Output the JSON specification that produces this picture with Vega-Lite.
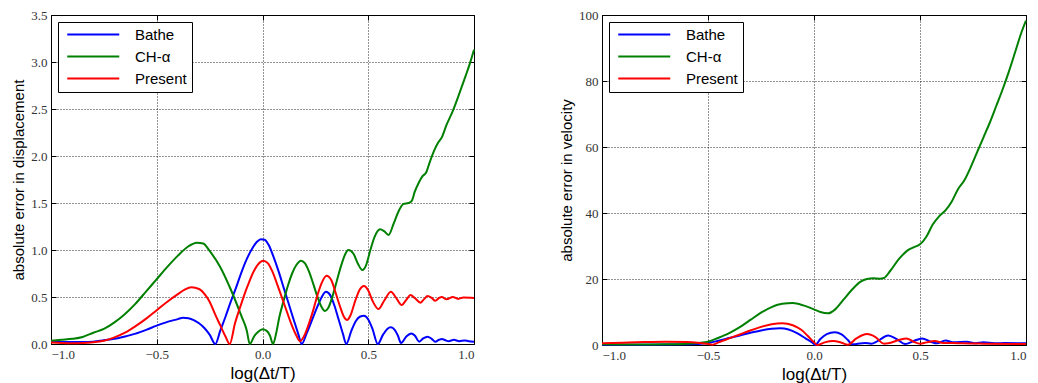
{
"$schema": "https://vega.github.io/schema/vega-lite/v6.json",
"padding": {"left": 11, "top": 8, "right": 2, "bottom": 4},
"background": "white",
"config": {
 "view": {"stroke": "black", "strokeWidth": 1},
 "font": "Liberation Sans",
 "axis": {"grid": true, "gridColor": "#000", "gridDash": [1, 2], "gridOpacity": 0.85, "gridWidth": 1, "domain": false, "tickColor": "#000", "tickSize": -5, "labelFont": "Liberation Serif", "labelFontSize": 13, "labelColor": "#333", "labelPadding": 9, "titleFont": "Liberation Sans", "titleFontWeight": "normal", "titleFontSize": 15, "titleColor": "#000"},
 "legend": {"orient": "top-left", "offset": 7, "strokeColor": "#000", "strokeWidth": 1, "fillColor": "white", "padding": 5, "symbolType": "M-0.5,0H7.5", "symbolSize": 169, "symbolStrokeWidth": 2, "labelFont": "Liberation Sans", "labelFontSize": 15, "labelColor": "#000", "rowPadding": 6, "labelOffset": 57, "cornerRadius": 0},
 "line": {"strokeWidth": 2, "interpolate": "monotone"}
},
"resolve": {"scale": {"color": "independent"}},
"spacing": 80,
"datasets": {
"d": [
{"x":-1,"y":0.025,"s":"Bathe"},{"x":-0.95,"y":0.022,"s":"Bathe"},{"x":-0.9,"y":0.02,"s":"Bathe"},{"x":-0.85,"y":0.02,"s":"Bathe"},{"x":-0.8,"y":0.025,"s":"Bathe"},{"x":-0.75,"y":0.04,"s":"Bathe"},{"x":-0.7,"y":0.055,"s":"Bathe"},{"x":-0.65,"y":0.08,"s":"Bathe"},{"x":-0.6,"y":0.11,"s":"Bathe"},{"x":-0.55,"y":0.15,"s":"Bathe"},{"x":-0.5,"y":0.195,"s":"Bathe"},{"x":-0.45,"y":0.235,"s":"Bathe"},{"x":-0.4,"y":0.265,"s":"Bathe"},{"x":-0.376,"y":0.28,"s":"Bathe"},{"x":-0.35,"y":0.275,"s":"Bathe"},{"x":-0.325,"y":0.255,"s":"Bathe"},{"x":-0.3,"y":0.22,"s":"Bathe"},{"x":-0.275,"y":0.17,"s":"Bathe"},{"x":-0.25,"y":0.1,"s":"Bathe"},{"x":-0.223,"y":0,"s":"Bathe"},{"x":-0.2,"y":0.14,"s":"Bathe"},{"x":-0.175,"y":0.29,"s":"Bathe"},{"x":-0.15,"y":0.45,"s":"Bathe"},{"x":-0.125,"y":0.6,"s":"Bathe"},{"x":-0.1,"y":0.76,"s":"Bathe"},{"x":-0.075,"y":0.9,"s":"Bathe"},{"x":-0.05,"y":1.01,"s":"Bathe"},{"x":-0.025,"y":1.09,"s":"Bathe"},{"x":-0.008,"y":1.115,"s":"Bathe"},{"x":0.01,"y":1.11,"s":"Bathe"},{"x":0.03,"y":1.05,"s":"Bathe"},{"x":0.05,"y":0.94,"s":"Bathe"},{"x":0.075,"y":0.78,"s":"Bathe"},{"x":0.1,"y":0.6,"s":"Bathe"},{"x":0.125,"y":0.42,"s":"Bathe"},{"x":0.15,"y":0.24,"s":"Bathe"},{"x":0.17,"y":0.1,"s":"Bathe"},{"x":0.185,"y":0,"s":"Bathe"},{"x":0.21,"y":0.12,"s":"Bathe"},{"x":0.235,"y":0.26,"s":"Bathe"},{"x":0.26,"y":0.4,"s":"Bathe"},{"x":0.28,"y":0.5,"s":"Bathe"},{"x":0.3,"y":0.555,"s":"Bathe"},{"x":0.32,"y":0.52,"s":"Bathe"},{"x":0.34,"y":0.41,"s":"Bathe"},{"x":0.36,"y":0.26,"s":"Bathe"},{"x":0.38,"y":0.11,"s":"Bathe"},{"x":0.396,"y":0,"s":"Bathe"},{"x":0.42,"y":0.14,"s":"Bathe"},{"x":0.44,"y":0.24,"s":"Bathe"},{"x":0.46,"y":0.29,"s":"Bathe"},{"x":0.48,"y":0.3,"s":"Bathe"},{"x":0.5,"y":0.26,"s":"Bathe"},{"x":0.52,"y":0.16,"s":"Bathe"},{"x":0.545,"y":0,"s":"Bathe"},{"x":0.57,"y":0.1,"s":"Bathe"},{"x":0.59,"y":0.16,"s":"Bathe"},{"x":0.607,"y":0.177,"s":"Bathe"},{"x":0.625,"y":0.15,"s":"Bathe"},{"x":0.64,"y":0.09,"s":"Bathe"},{"x":0.655,"y":0.01,"s":"Bathe"},{"x":0.68,"y":0.08,"s":"Bathe"},{"x":0.703,"y":0.113,"s":"Bathe"},{"x":0.72,"y":0.09,"s":"Bathe"},{"x":0.741,"y":0.025,"s":"Bathe"},{"x":0.76,"y":0.06,"s":"Bathe"},{"x":0.78,"y":0.078,"s":"Bathe"},{"x":0.8,"y":0.055,"s":"Bathe"},{"x":0.817,"y":0.025,"s":"Bathe"},{"x":0.835,"y":0.045,"s":"Bathe"},{"x":0.848,"y":0.053,"s":"Bathe"},{"x":0.865,"y":0.04,"s":"Bathe"},{"x":0.88,"y":0.03,"s":"Bathe"},{"x":0.905,"y":0.045,"s":"Bathe"},{"x":0.93,"y":0.03,"s":"Bathe"},{"x":0.955,"y":0.038,"s":"Bathe"},{"x":0.975,"y":0.03,"s":"Bathe"},{"x":1,"y":0.025,"s":"Bathe"},
{"x":-1,"y":0.035,"s":"CH-α"},{"x":-0.95,"y":0.045,"s":"CH-α"},{"x":-0.9,"y":0.055,"s":"CH-α"},{"x":-0.85,"y":0.075,"s":"CH-α"},{"x":-0.8,"y":0.12,"s":"CH-α"},{"x":-0.75,"y":0.16,"s":"CH-α"},{"x":-0.7,"y":0.23,"s":"CH-α"},{"x":-0.65,"y":0.32,"s":"CH-α"},{"x":-0.6,"y":0.43,"s":"CH-α"},{"x":-0.55,"y":0.56,"s":"CH-α"},{"x":-0.5,"y":0.69,"s":"CH-α"},{"x":-0.45,"y":0.82,"s":"CH-α"},{"x":-0.4,"y":0.94,"s":"CH-α"},{"x":-0.35,"y":1.04,"s":"CH-α"},{"x":-0.31,"y":1.078,"s":"CH-α"},{"x":-0.28,"y":1.07,"s":"CH-α"},{"x":-0.25,"y":0.99,"s":"CH-α"},{"x":-0.2,"y":0.82,"s":"CH-α"},{"x":-0.15,"y":0.58,"s":"CH-α"},{"x":-0.1,"y":0.3,"s":"CH-α"},{"x":-0.075,"y":0.15,"s":"CH-α"},{"x":-0.06,"y":0,"s":"CH-α"},{"x":-0.04,"y":0.08,"s":"CH-α"},{"x":-0.02,"y":0.13,"s":"CH-α"},{"x":0,"y":0.156,"s":"CH-α"},{"x":0.02,"y":0.14,"s":"CH-α"},{"x":0.035,"y":0.09,"s":"CH-α"},{"x":0.05,"y":0,"s":"CH-α"},{"x":0.065,"y":0.12,"s":"CH-α"},{"x":0.08,"y":0.29,"s":"CH-α"},{"x":0.1,"y":0.46,"s":"CH-α"},{"x":0.12,"y":0.62,"s":"CH-α"},{"x":0.14,"y":0.75,"s":"CH-α"},{"x":0.16,"y":0.84,"s":"CH-α"},{"x":0.182,"y":0.886,"s":"CH-α"},{"x":0.2,"y":0.86,"s":"CH-α"},{"x":0.22,"y":0.77,"s":"CH-α"},{"x":0.24,"y":0.64,"s":"CH-α"},{"x":0.26,"y":0.5,"s":"CH-α"},{"x":0.28,"y":0.39,"s":"CH-α"},{"x":0.295,"y":0.351,"s":"CH-α"},{"x":0.31,"y":0.38,"s":"CH-α"},{"x":0.33,"y":0.5,"s":"CH-α"},{"x":0.35,"y":0.66,"s":"CH-α"},{"x":0.37,"y":0.82,"s":"CH-α"},{"x":0.39,"y":0.95,"s":"CH-α"},{"x":0.406,"y":1.0,"s":"CH-α"},{"x":0.43,"y":0.96,"s":"CH-α"},{"x":0.45,"y":0.86,"s":"CH-α"},{"x":0.472,"y":0.787,"s":"CH-α"},{"x":0.49,"y":0.84,"s":"CH-α"},{"x":0.51,"y":1.0,"s":"CH-α"},{"x":0.53,"y":1.14,"s":"CH-α"},{"x":0.556,"y":1.22,"s":"CH-α"},{"x":0.575,"y":1.2,"s":"CH-α"},{"x":0.596,"y":1.16,"s":"CH-α"},{"x":0.62,"y":1.28,"s":"CH-α"},{"x":0.643,"y":1.41,"s":"CH-α"},{"x":0.667,"y":1.49,"s":"CH-α"},{"x":0.69,"y":1.5,"s":"CH-α"},{"x":0.705,"y":1.52,"s":"CH-α"},{"x":0.72,"y":1.62,"s":"CH-α"},{"x":0.74,"y":1.72,"s":"CH-α"},{"x":0.755,"y":1.78,"s":"CH-α"},{"x":0.775,"y":1.83,"s":"CH-α"},{"x":0.79,"y":1.93,"s":"CH-α"},{"x":0.81,"y":2.05,"s":"CH-α"},{"x":0.83,"y":2.14,"s":"CH-α"},{"x":0.848,"y":2.2,"s":"CH-α"},{"x":0.87,"y":2.33,"s":"CH-α"},{"x":0.9,"y":2.48,"s":"CH-α"},{"x":0.93,"y":2.66,"s":"CH-α"},{"x":0.96,"y":2.85,"s":"CH-α"},{"x":0.98,"y":2.98,"s":"CH-α"},{"x":1,"y":3.13,"s":"CH-α"},
{"x":-1,"y":0.015,"s":"Present"},{"x":-0.95,"y":0.01,"s":"Present"},{"x":-0.9,"y":0.008,"s":"Present"},{"x":-0.85,"y":0.01,"s":"Present"},{"x":-0.8,"y":0.018,"s":"Present"},{"x":-0.75,"y":0.035,"s":"Present"},{"x":-0.7,"y":0.07,"s":"Present"},{"x":-0.65,"y":0.12,"s":"Present"},{"x":-0.6,"y":0.19,"s":"Present"},{"x":-0.55,"y":0.27,"s":"Present"},{"x":-0.5,"y":0.36,"s":"Present"},{"x":-0.45,"y":0.45,"s":"Present"},{"x":-0.4,"y":0.53,"s":"Present"},{"x":-0.37,"y":0.575,"s":"Present"},{"x":-0.336,"y":0.605,"s":"Present"},{"x":-0.3,"y":0.585,"s":"Present"},{"x":-0.27,"y":0.52,"s":"Present"},{"x":-0.25,"y":0.45,"s":"Present"},{"x":-0.225,"y":0.32,"s":"Present"},{"x":-0.2,"y":0.2,"s":"Present"},{"x":-0.175,"y":0.08,"s":"Present"},{"x":-0.155,"y":0,"s":"Present"},{"x":-0.13,"y":0.22,"s":"Present"},{"x":-0.1,"y":0.43,"s":"Present"},{"x":-0.07,"y":0.62,"s":"Present"},{"x":-0.04,"y":0.78,"s":"Present"},{"x":-0.02,"y":0.85,"s":"Present"},{"x":0.003,"y":0.886,"s":"Present"},{"x":0.025,"y":0.86,"s":"Present"},{"x":0.045,"y":0.78,"s":"Present"},{"x":0.075,"y":0.6,"s":"Present"},{"x":0.105,"y":0.41,"s":"Present"},{"x":0.135,"y":0.22,"s":"Present"},{"x":0.16,"y":0.09,"s":"Present"},{"x":0.177,"y":0.03,"s":"Present"},{"x":0.2,"y":0.1,"s":"Present"},{"x":0.22,"y":0.22,"s":"Present"},{"x":0.24,"y":0.36,"s":"Present"},{"x":0.26,"y":0.52,"s":"Present"},{"x":0.28,"y":0.65,"s":"Present"},{"x":0.303,"y":0.725,"s":"Present"},{"x":0.325,"y":0.68,"s":"Present"},{"x":0.345,"y":0.55,"s":"Present"},{"x":0.365,"y":0.41,"s":"Present"},{"x":0.385,"y":0.29,"s":"Present"},{"x":0.4,"y":0.255,"s":"Present"},{"x":0.415,"y":0.3,"s":"Present"},{"x":0.44,"y":0.47,"s":"Present"},{"x":0.46,"y":0.58,"s":"Present"},{"x":0.48,"y":0.617,"s":"Present"},{"x":0.5,"y":0.57,"s":"Present"},{"x":0.52,"y":0.46,"s":"Present"},{"x":0.548,"y":0.372,"s":"Present"},{"x":0.575,"y":0.46,"s":"Present"},{"x":0.607,"y":0.557,"s":"Present"},{"x":0.635,"y":0.48,"s":"Present"},{"x":0.658,"y":0.415,"s":"Present"},{"x":0.68,"y":0.47,"s":"Present"},{"x":0.7,"y":0.52,"s":"Present"},{"x":0.72,"y":0.49,"s":"Present"},{"x":0.747,"y":0.44,"s":"Present"},{"x":0.765,"y":0.48,"s":"Present"},{"x":0.78,"y":0.51,"s":"Present"},{"x":0.8,"y":0.49,"s":"Present"},{"x":0.817,"y":0.46,"s":"Present"},{"x":0.835,"y":0.49,"s":"Present"},{"x":0.848,"y":0.5,"s":"Present"},{"x":0.87,"y":0.475,"s":"Present"},{"x":0.9,"y":0.5,"s":"Present"},{"x":0.925,"y":0.48,"s":"Present"},{"x":0.95,"y":0.495,"s":"Present"},{"x":1,"y":0.49,"s":"Present"}
],
"v": [
{"x":-1,"y":0.1,"s":"Bathe"},{"x":-0.8,"y":0.1,"s":"Bathe"},{"x":-0.6,"y":0.2,"s":"Bathe"},{"x":-0.5,"y":0.6,"s":"Bathe"},{"x":-0.45,"y":1.3,"s":"Bathe"},{"x":-0.4,"y":2.1,"s":"Bathe"},{"x":-0.35,"y":2.9,"s":"Bathe"},{"x":-0.3,"y":3.7,"s":"Bathe"},{"x":-0.25,"y":4.4,"s":"Bathe"},{"x":-0.2,"y":4.9,"s":"Bathe"},{"x":-0.16,"y":5.05,"s":"Bathe"},{"x":-0.12,"y":4.7,"s":"Bathe"},{"x":-0.08,"y":3.6,"s":"Bathe"},{"x":-0.04,"y":2.0,"s":"Bathe"},{"x":0,"y":0.3,"s":"Bathe"},{"x":0.005,"y":0,"s":"Bathe"},{"x":0.03,"y":1.8,"s":"Bathe"},{"x":0.06,"y":3.3,"s":"Bathe"},{"x":0.098,"y":3.9,"s":"Bathe"},{"x":0.13,"y":3.2,"s":"Bathe"},{"x":0.16,"y":1.5,"s":"Bathe"},{"x":0.18,"y":0.2,"s":"Bathe"},{"x":0.2,"y":0.3,"s":"Bathe"},{"x":0.24,"y":0.6,"s":"Bathe"},{"x":0.27,"y":0.4,"s":"Bathe"},{"x":0.3,"y":1.2,"s":"Bathe"},{"x":0.35,"y":2.9,"s":"Bathe"},{"x":0.39,"y":1.8,"s":"Bathe"},{"x":0.43,"y":0.3,"s":"Bathe"},{"x":0.47,"y":1.2,"s":"Bathe"},{"x":0.51,"y":2.0,"s":"Bathe"},{"x":0.55,"y":1.0,"s":"Bathe"},{"x":0.58,"y":0.5,"s":"Bathe"},{"x":0.62,"y":1.4,"s":"Bathe"},{"x":0.66,"y":0.8,"s":"Bathe"},{"x":0.72,"y":1.0,"s":"Bathe"},{"x":0.76,"y":0.5,"s":"Bathe"},{"x":0.8,"y":0.8,"s":"Bathe"},{"x":0.85,"y":0.5,"s":"Bathe"},{"x":0.9,"y":0.6,"s":"Bathe"},{"x":1,"y":0.5,"s":"Bathe"},
{"x":-1,"y":0.2,"s":"CH-α"},{"x":-0.8,"y":0.15,"s":"CH-α"},{"x":-0.7,"y":0.2,"s":"CH-α"},{"x":-0.6,"y":0.4,"s":"CH-α"},{"x":-0.5,"y":1.0,"s":"CH-α"},{"x":-0.45,"y":2.2,"s":"CH-α"},{"x":-0.4,"y":3.6,"s":"CH-α"},{"x":-0.35,"y":5.4,"s":"CH-α"},{"x":-0.3,"y":7.6,"s":"CH-α"},{"x":-0.25,"y":9.8,"s":"CH-α"},{"x":-0.2,"y":11.5,"s":"CH-α"},{"x":-0.15,"y":12.5,"s":"CH-α"},{"x":-0.1,"y":12.7,"s":"CH-α"},{"x":-0.05,"y":12.0,"s":"CH-α"},{"x":0,"y":10.8,"s":"CH-α"},{"x":0.03,"y":10.0,"s":"CH-α"},{"x":0.066,"y":9.6,"s":"CH-α"},{"x":0.1,"y":10.8,"s":"CH-α"},{"x":0.14,"y":13.8,"s":"CH-α"},{"x":0.18,"y":16.8,"s":"CH-α"},{"x":0.22,"y":19.2,"s":"CH-α"},{"x":0.25,"y":20.0,"s":"CH-α"},{"x":0.28,"y":20.2,"s":"CH-α"},{"x":0.31,"y":20.1,"s":"CH-α"},{"x":0.33,"y":20.3,"s":"CH-α"},{"x":0.36,"y":22.5,"s":"CH-α"},{"x":0.4,"y":26.0,"s":"CH-α"},{"x":0.44,"y":28.6,"s":"CH-α"},{"x":0.47,"y":29.6,"s":"CH-α"},{"x":0.5,"y":30.5,"s":"CH-α"},{"x":0.53,"y":32.8,"s":"CH-α"},{"x":0.56,"y":36.5,"s":"CH-α"},{"x":0.59,"y":39.0,"s":"CH-α"},{"x":0.62,"y":40.8,"s":"CH-α"},{"x":0.65,"y":43.5,"s":"CH-α"},{"x":0.68,"y":47.3,"s":"CH-α"},{"x":0.71,"y":50.0,"s":"CH-α"},{"x":0.74,"y":54.0,"s":"CH-α"},{"x":0.77,"y":58.5,"s":"CH-α"},{"x":0.8,"y":63.0,"s":"CH-α"},{"x":0.83,"y":67.5,"s":"CH-α"},{"x":0.86,"y":72.5,"s":"CH-α"},{"x":0.89,"y":77.5,"s":"CH-α"},{"x":0.92,"y":83.0,"s":"CH-α"},{"x":0.95,"y":89.0,"s":"CH-α"},{"x":0.98,"y":95.0,"s":"CH-α"},{"x":1,"y":98.3,"s":"CH-α"},
{"x":-1,"y":0.5,"s":"Present"},{"x":-0.9,"y":0.7,"s":"Present"},{"x":-0.8,"y":0.9,"s":"Present"},{"x":-0.7,"y":1.0,"s":"Present"},{"x":-0.6,"y":0.9,"s":"Present"},{"x":-0.55,"y":0.7,"s":"Present"},{"x":-0.5,"y":0.3,"s":"Present"},{"x":-0.48,"y":0.1,"s":"Present"},{"x":-0.45,"y":0.8,"s":"Present"},{"x":-0.4,"y":2.0,"s":"Present"},{"x":-0.35,"y":3.2,"s":"Present"},{"x":-0.3,"y":4.4,"s":"Present"},{"x":-0.25,"y":5.5,"s":"Present"},{"x":-0.2,"y":6.3,"s":"Present"},{"x":-0.15,"y":6.6,"s":"Present"},{"x":-0.1,"y":6.0,"s":"Present"},{"x":-0.06,"y":4.6,"s":"Present"},{"x":-0.03,"y":2.8,"s":"Present"},{"x":0,"y":0.8,"s":"Present"},{"x":0.015,"y":0,"s":"Present"},{"x":0.05,"y":0.8,"s":"Present"},{"x":0.09,"y":1.2,"s":"Present"},{"x":0.13,"y":0.7,"s":"Present"},{"x":0.16,"y":0.1,"s":"Present"},{"x":0.2,"y":2.0,"s":"Present"},{"x":0.25,"y":3.3,"s":"Present"},{"x":0.29,"y":2.4,"s":"Present"},{"x":0.33,"y":0.4,"s":"Present"},{"x":0.35,"y":0.5,"s":"Present"},{"x":0.4,"y":1.5,"s":"Present"},{"x":0.436,"y":2.0,"s":"Present"},{"x":0.47,"y":1.0,"s":"Present"},{"x":0.5,"y":0.4,"s":"Present"},{"x":0.53,"y":0.8,"s":"Present"},{"x":0.57,"y":1.2,"s":"Present"},{"x":0.61,"y":0.6,"s":"Present"},{"x":0.65,"y":0.6,"s":"Present"},{"x":0.7,"y":0.5,"s":"Present"},{"x":0.8,"y":0.4,"s":"Present"},{"x":1,"y":0.3,"s":"Present"}
]
},
"hconcat": [
{
 "width": 423, "height": 329,
 "data": {"name": "d"},
 "layer": [
  {"mark": {"type": "line"},
   "encoding": {
    "x": {"field": "x", "type": "quantitative", "scale": {"domain": [-1, 1], "nice": false}, "axis": {"values": [-1, -0.5, 0, 0.5, 1], "format": ".1f", "title": "log(Δt/T)", "titleFontSize": 17}},
    "y": {"field": "y", "type": "quantitative", "scale": {"domain": [0, 3.5], "nice": false}, "axis": {"values": [0, 0.5, 1, 1.5, 2, 2.5, 3, 3.5], "format": ".1f", "title": "absolute error in displacement"}},
    "color": {"field": "s", "type": "nominal", "scale": {"domain": ["Bathe", "CH-α", "Present"], "range": ["#0000ff", "#008000", "#ff0000"]}, "legend": {"title": null}}
   }},
  {"mark": {"type": "line", "opacity": 0},
   "encoding": {
    "x": {"field": "x", "type": "quantitative", "axis": {"orient": "top", "values": [-1, -0.5, 0, 0.5, 1], "labels": false, "grid": false, "title": null}},
    "y": {"field": "y", "type": "quantitative", "axis": {"orient": "right", "values": [0, 0.5, 1, 1.5, 2, 2.5, 3, 3.5], "labels": false, "grid": false, "title": null}}
   }}
 ],
 "resolve": {"axis": {"x": "independent", "y": "independent"}}
},
{
 "width": 424, "height": 330,
 "data": {"name": "v"},
 "layer": [
  {"mark": {"type": "line"},
   "encoding": {
    "x": {"field": "x", "type": "quantitative", "scale": {"domain": [-1, 1], "nice": false}, "axis": {"values": [-1, -0.5, 0, 0.5, 1], "format": ".1f", "title": "log(Δt/T)", "titleFontSize": 17}},
    "y": {"field": "y", "type": "quantitative", "scale": {"domain": [0, 100], "nice": false}, "axis": {"values": [0, 20, 40, 60, 80, 100], "format": "d", "title": "absolute error in velocity"}},
    "color": {"field": "s", "type": "nominal", "scale": {"domain": ["Bathe", "CH-α", "Present"], "range": ["#0000ff", "#008000", "#ff0000"]}, "legend": {"title": null}}
   }},
  {"mark": {"type": "line", "opacity": 0},
   "encoding": {
    "x": {"field": "x", "type": "quantitative", "axis": {"orient": "top", "values": [-1, -0.5, 0, 0.5, 1], "labels": false, "grid": false, "title": null}},
    "y": {"field": "y", "type": "quantitative", "axis": {"orient": "right", "values": [0, 20, 40, 60, 80, 100], "labels": false, "grid": false, "title": null}}
   }}
 ],
 "resolve": {"axis": {"x": "independent", "y": "independent"}}
}
]
}
